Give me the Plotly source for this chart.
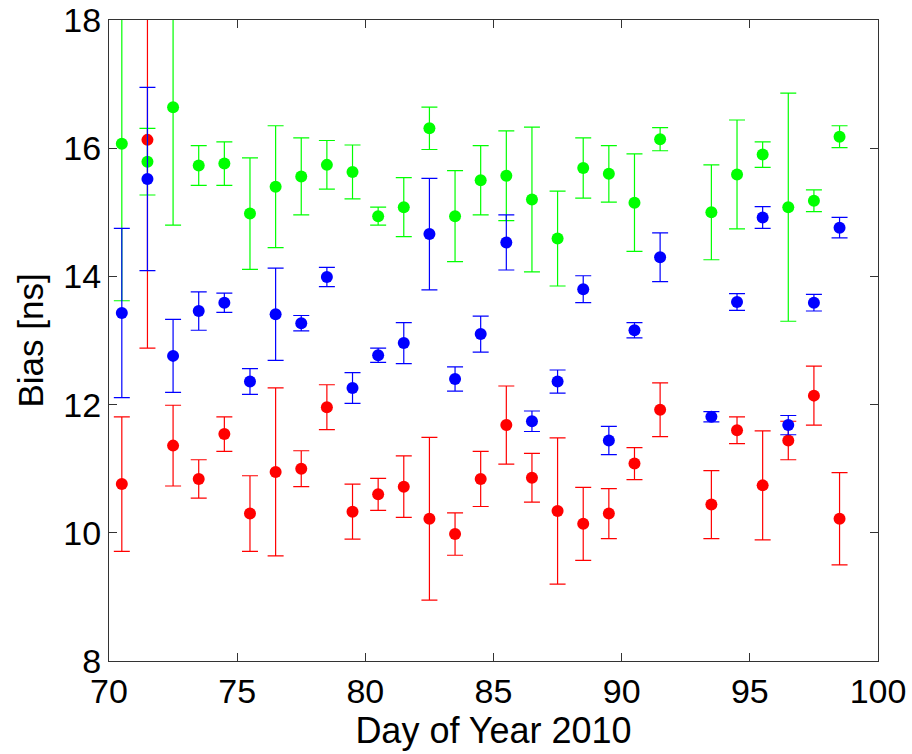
import plotly.graph_objects as go

days = [70.5, 71.5, 72.5, 73.5, 74.5, 75.5, 76.5, 77.5, 78.5, 79.5,
        80.5, 81.5, 82.5, 83.5, 84.5, 85.5, 86.5, 87.5, 88.5, 89.5,
        90.5, 91.5, 93.5, 94.5, 95.5, 96.5, 97.5, 98.5]

green_bias = [16.07, 15.79, 16.64, 15.73, 15.76, 14.98, 15.40, 15.56, 15.74, 15.63,
              14.94, 15.08, 16.31, 14.94, 15.50, 15.57, 15.20, 14.59, 15.69, 15.60,
              15.15, 16.14, 15.00, 15.59, 15.90, 15.08, 15.18, 16.18]
green_err = [2.45, 0.52, 1.84, 0.31, 0.34, 0.87, 0.95, 0.60, 0.38, 0.42,
             0.14, 0.46, 0.33, 0.71, 0.54, 0.70, 1.13, 0.74, 0.47, 0.44,
             0.76, 0.18, 0.74, 0.85, 0.20, 1.78, 0.17, 0.17]

blue_bias = [13.43, 15.52, 12.76, 13.46, 13.59, 12.36, 13.41, 13.27, 13.99, 12.26,
             12.77, 12.96, 14.66, 12.40, 13.10, 14.53, 11.74, 12.36, 13.80, 11.44,
             13.16, 14.30, 11.81, 13.60, 14.92, 11.68, 13.59, 14.76]
blue_err = [1.32, 1.43, 0.57, 0.30, 0.15, 0.20, 0.72, 0.12, 0.15, 0.24,
            0.11, 0.32, 0.87, 0.19, 0.28, 0.43, 0.16, 0.18, 0.21, 0.22,
            0.12, 0.38, 0.08, 0.13, 0.17, 0.15, 0.13, 0.16]

red_bias = [10.76, 16.13, 11.36, 10.84, 11.54, 10.30, 10.95, 11.00, 11.96, 10.33,
            10.60, 10.72, 10.22, 9.98, 10.84, 11.68, 10.86, 10.34, 10.14, 10.30,
            11.08, 11.92, 10.44, 11.60, 10.74, 11.44, 12.14, 10.22]
red_err = [1.05, 3.25, 0.63, 0.30, 0.27, 0.59, 1.31, 0.28, 0.35, 0.43,
           0.25, 0.48, 1.27, 0.33, 0.43, 0.61, 0.38, 1.14, 0.57, 0.39,
           0.25, 0.42, 0.53, 0.21, 0.85, 0.30, 0.46, 0.72]

x_ticks = [70, 75, 80, 85, 90, 95, 100]
y_ticks = [8, 10, 12, 14, 16, 18]

FONT = "Liberation Sans, Arial, sans-serif"

fig = go.Figure()
for y, e, c in [(red_bias, red_err, "#ff0000"),
                (green_bias, green_err, "#00ff00"),
                (blue_bias, blue_err, "#0000ff")]:
    fig.add_trace(go.Scatter(
        x=days, y=y, mode="markers",
        marker=dict(color=c, size=12, line=dict(width=0)),
        error_y=dict(type="data", array=e, visible=True, color=c,
                     thickness=1.2, width=8),
        showlegend=False,
    ))

axis_common = dict(
    showline=True, linecolor="#333333", linewidth=1.3, mirror="ticks",
    ticks="inside", ticklen=8, tickwidth=1.3, tickcolor="#333333",
    showgrid=False, zeroline=False, automargin=False,
    tickfont=dict(family=FONT, size=34, color="black"),
)

fig.update_layout(
    width=912, height=754,
    margin=dict(l=109, r=34, t=20, b=93),
    paper_bgcolor="white", plot_bgcolor="white",
    font=dict(family=FONT, color="black"),
    xaxis=dict(range=[70, 100], tickvals=x_ticks, ticktext=[str(v) for v in x_ticks],
               title=dict(text="Day of Year 2010", font=dict(family=FONT, size=36), standoff=4),
               **axis_common),
    yaxis=dict(range=[8, 18], tickvals=y_ticks, ticktext=[str(v) for v in y_ticks],
               title=dict(text="Bias [ns]", font=dict(family=FONT, size=35), standoff=8),
               **axis_common),
)

fig.write_html("out.html")
